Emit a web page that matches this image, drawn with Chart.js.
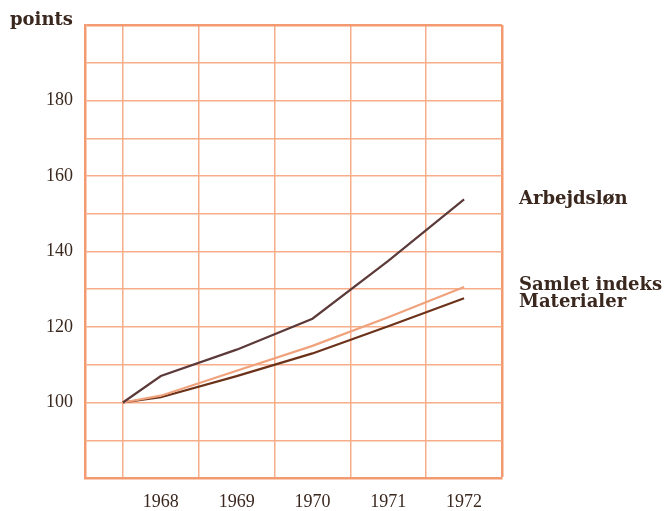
<!DOCTYPE html>
<html>
<head>
<meta charset="utf-8">
<script src="https://cdn.jsdelivr.net/npm/chart.js@4.4.1/dist/chart.umd.min.js"></script>
<style>
  html, body { margin: 0; padding: 0; background: #fff; }
  #wrap { width: 666px; height: 511px; }
</style>
</head>
<body>
<div id="wrap"><canvas id="indeksChart" width="666" height="511"></canvas></div>
<script>
// år (1967.5 = udgangspunkt, indeks 100)
const aar = [1967.5, 1968, 1969, 1970, 1971, 1972];
const arbejdslon = [100, 107, 114, 122.2, 137.5, 153.8];
const samletIndeks = [100, 101.8, 108.4, 115, 122.6, 130.6];
const materialer = [100, 101.4, 107, 113, 120.2, 127.6];
const aarLabels = [1968, 1969, 1970, 1971, 1972];
const yLabels = [100, 120, 140, 160, 180];

const gridFarve = '#f7ad8a';
const kantFarve = '#f49a70';
const tekstFarve = '#3a281f';

function punkter(vaerdier) {
  return aar.map((x, i) => ({ x: x, y: vaerdier[i] }));
}

const serier = [
  { label: 'Arbejdsløn', data: punkter(arbejdslon), color: '#5c3a3a', dy: 0 },
  { label: 'Samlet indeks', data: punkter(samletIndeks), color: '#f0a27c', dy: -2 },
  { label: 'Materialer', data: punkter(materialer), color: '#6b3219', dy: 4 }
];

const tekstPlugin = {
  id: 'tekster',
  afterDraw(chart) {
    const ctx = chart.ctx;
    const area = chart.chartArea;
    const yScale = chart.scales.y;
    ctx.save();
    ctx.fillStyle = tekstFarve;
    ctx.font = 'bold 18px "DejaVu Serif"';
    ctx.textAlign = 'left';
    ctx.textBaseline = 'middle';
    ctx.fillText('points', 10, 20);
    serier.forEach(s => {
      const sidste = s.data[s.data.length - 1].y;
      ctx.fillText(s.label, area.right + 17, yScale.getPixelForValue(sidste) + s.dy);
    });
    ctx.restore();
  }
};

new Chart(document.getElementById('indeksChart').getContext('2d'), {
  type: 'line',
  data: {
    datasets: serier.map(s => ({
      label: s.label,
      data: s.data,
      borderColor: s.color,
      borderWidth: 2.2,
      pointRadius: 0,
      fill: false,
      tension: 0
    }))
  },
  options: {
    responsive: false,
    animation: false,
    layout: { padding: { top: 25, right: 164, left: 0, bottom: 0 } },
    plugins: { legend: { display: false }, tooltip: { enabled: false } },
    scales: {
      x: {
        type: 'linear',
        min: 1967,
        max: 1972.5,
        afterBuildTicks(scale) {
          const t = [];
          for (let v = 1967; v <= 1972.5; v += 0.5) t.push({ value: v });
          scale.ticks = t;
        },
        afterFit(scale) { scale.height = 33; },
        grid: {
          drawTicks: false,
          lineWidth: c => (c.tick && c.tick.value === 1972.5) ? 2.5 : 1.5,
          color: c => {
            if (!c.tick) return 'rgba(0,0,0,0)';
            if (c.tick.value === 1972.5) return kantFarve;
            return c.tick.value % 1 === 0.5 ? gridFarve : 'rgba(0,0,0,0)';
          }
        },
        border: { color: kantFarve, width: 2.5 },
        ticks: {
          autoSkip: false,
          maxRotation: 0,
          padding: 13,
          color: tekstFarve,
          font: { family: 'Liberation Serif', size: 18 },
          callback: v => aarLabels.includes(v) ? String(v) : ''
        }
      },
      y: {
        min: 80,
        max: 200,
        afterBuildTicks(scale) {
          const t = [];
          for (let v = 80; v <= 200; v += 10) t.push({ value: v });
          scale.ticks = t;
        },
        afterFit(scale) { scale.width = 85; },
        grid: {
          drawTicks: false,
          lineWidth: c => (c.tick && c.tick.value === 200) ? 2.5 : 1.5,
          color: c => (c.tick && c.tick.value === 200) ? kantFarve : gridFarve
        },
        border: { color: kantFarve, width: 2.5 },
        ticks: {
          padding: 12,
          color: tekstFarve,
          font: { family: 'Liberation Serif', size: 18 },
          callback: v => yLabels.includes(v) ? String(v) : ''
        }
      }
    }
  },
  plugins: [tekstPlugin]
});
</script>
</body>
</html>
